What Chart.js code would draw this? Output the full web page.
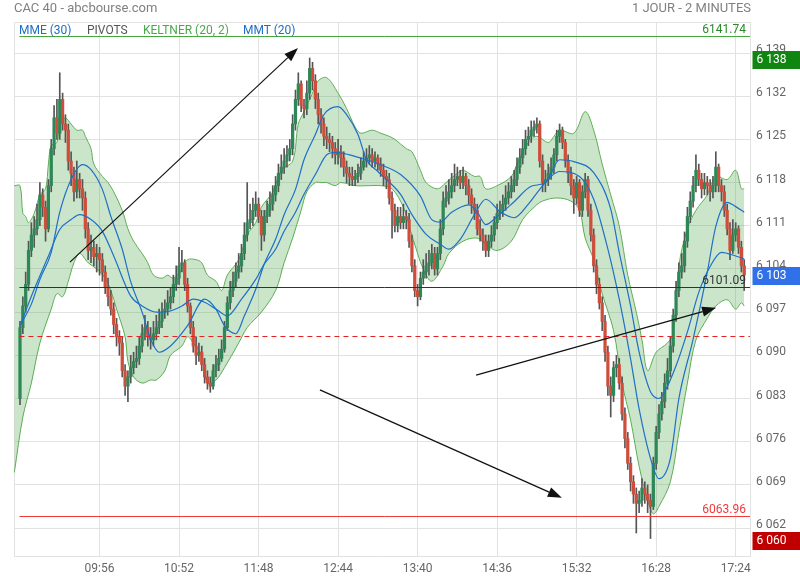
<!DOCTYPE html>
<html>
<head>
<meta charset="utf-8">
<title>CAC 40 - abcbourse.com</title>
<script src="https://cdn.jsdelivr.net/npm/chart.js@4.4.0/dist/chart.umd.min.js"></script>
<style>
  body { margin: 0; background: #fff; font-family: Roboto, "Noto Sans", sans-serif; }
  #wrap { position: relative; width: 800px; height: 580px; overflow: hidden; }
  #chart { position: absolute; left: 0; top: 0; }
  .txt { position: absolute; white-space: nowrap; line-height: 14px; }
  #title { left: 14px; top: 1px; font-size: 13px; color: #808080; }
  #period { right: 49px; top: 1px; font-size: 13px; color: #808080; }
  .leg { top: 23px; font-size: 12px; }
</style>
</head>
<body>
<div id="wrap">
  <canvas id="chart" width="800" height="580"></canvas>
  <div class="txt" id="title">CAC 40 - abcbourse.com</div>
  <div class="txt" id="period">1 JOUR - 2 MINUTES</div>
  <div class="txt leg" style="left:19px;color:#1e6ec8">MME (30)</div>
  <div class="txt leg" style="left:87px;color:#555">PIVOTS</div>
  <div class="txt leg" style="left:143px;color:#4aa84a">KELTNER (20, 2)</div>
  <div class="txt leg" style="left:243px;color:#1e6ec8">MMT (20)</div>
</div>
<script>
/********** DATA **********/

// 2 minute candles, index 0 = 09:00 ... 255 = 17:30
const firstOpen = 6083;
const closes = [
  6094.5, 6098, 6101.5, 6107, 6109.5, 6110.5, 6112, 6116, 6114, 6110.5,
  6117.5, 6123.5, 6128.5, 6126, 6131.5, 6127.5, 6126.5, 6121.5, 6119.5, 6116.5,
  6118.5, 6117, 6115.5, 6110.5, 6107, 6107.5, 6106, 6106.5, 6105.5, 6103.5,
  6101, 6099.5, 6097.5, 6095, 6093, 6092, 6087.5, 6085, 6086.5, 6088,
  6089, 6089.5, 6091.5, 6093.5, 6094.5, 6093, 6092.5, 6093.5, 6094.5, 6095.5,
  6097, 6097.5, 6098.5, 6099.5, 6101.5, 6102.5, 6104.5, 6105, 6101.5, 6098,
  6094.5, 6091.5, 6090, 6090.5, 6088.5, 6086.5, 6085.5, 6085, 6087.5, 6088.5,
  6089.5, 6091, 6094.5, 6098.5, 6100.5, 6102, 6103.5, 6104.5, 6106.5, 6109.5,
  6111.5, 6112, 6113.5, 6114.5, 6112.5, 6109.5, 6112.5, 6113.5, 6114.5, 6116,
  6117.5, 6119.5, 6120.5, 6121.5, 6122.5, 6123.5, 6127.5, 6131.5, 6134, 6130.5,
  6130, 6132.5, 6136.5, 6134.5, 6131.5, 6129, 6127.5, 6125.5, 6125, 6124.5,
  6123.5, 6122.5, 6123, 6122, 6120.5, 6119.5, 6119, 6118.5, 6119, 6119.5,
  6120.5, 6121.5, 6122, 6122.5, 6121.5, 6122, 6121, 6120, 6119, 6118.5,
  6115.5, 6113.5, 6111, 6112.5, 6111.5, 6112.5, 6112, 6108.5, 6104.5, 6100.5,
  6099.5, 6102.5, 6103.5, 6104.5, 6105, 6106.5, 6104, 6106.5, 6110.5, 6115,
  6115.5, 6116.5, 6117.5, 6118.5, 6119, 6118, 6119, 6117.5, 6116, 6114.5,
  6113.5, 6110.5, 6109.5, 6108.5, 6107, 6108.5, 6109.5, 6111.5, 6113, 6113.5,
  6114.5, 6115.5, 6116.5, 6117.5, 6118.5, 6120.5, 6122, 6123.5, 6125, 6125.5,
  6126.5, 6127, 6127.5, 6121.5, 6118, 6118.5, 6119.5, 6120.5, 6122.5, 6125.5,
  6126.5, 6124.5, 6121.5, 6119.5, 6117.5, 6115.5, 6118, 6113.5, 6116.5, 6118.5,
  6113.5, 6109.5, 6104.5, 6101.5, 6098.5, 6095.5, 6090.5, 6085, 6083.5, 6088,
  6088.5, 6085.5, 6080.5, 6076.5, 6072.5, 6069.5, 6067.5, 6066, 6066.5, 6068.5,
  6067.5, 6066.5, 6065.5, 6072.5, 6077.5, 6080.5, 6082.5, 6085.5, 6087.5, 6091.5,
  6096.5, 6100.5, 6103.5, 6104.5, 6108.5, 6112.5, 6115, 6117.5, 6120, 6118.5,
  6117, 6118, 6117.5, 6116.5, 6117.5, 6120.5, 6117.5, 6116.5, 6113.5, 6110.5,
  6107, 6109.5, 6110.5, 6107.5, 6104.5, 6103
];
const highs = [
  6095.5, 6099.5, 6103.5, 6108.5, 6111.5, 6112.5, 6114.5, 6118, 6117, 6115,
  6118.5, 6125, 6130.5, 6131.5, 6135.8, 6132.5, 6129, 6127.5, 6123, 6120.5,
  6121.5, 6119.5, 6118.5, 6116.5, 6111.5, 6109.5, 6108.5, 6108, 6107.5, 6106.5,
  6104.5, 6102.5, 6100.5, 6098.5, 6096, 6094, 6093, 6088.5, 6087.5, 6090,
  6090.5, 6091.5, 6093, 6095, 6096.5, 6095.5, 6094.5, 6095.5, 6096.5, 6097.5,
  6098.5, 6099, 6100.5, 6101, 6103, 6104.5, 6107.5, 6107, 6105.5, 6102.5,
  6098.5, 6095.5, 6093, 6092, 6091.5, 6089.5, 6087.5, 6086.5, 6088.5, 6090,
  6091, 6092.5, 6095.5, 6099.5, 6102, 6103.5, 6105, 6106.5, 6108, 6111.5,
  6118, 6114.5, 6115.5, 6116.5, 6115.5, 6113.5, 6113.5, 6115, 6116.5, 6117.5,
  6119, 6121, 6122.5, 6123.5, 6124, 6125, 6129, 6133, 6135.8, 6134.5,
  6131.5, 6134.5, 6138.2, 6137.5, 6135.5, 6132.5, 6130, 6128.5, 6127, 6126,
  6125.5, 6124.5, 6125, 6124, 6123, 6121.5, 6120.5, 6120.5, 6120, 6121,
  6122, 6123, 6123.5, 6124, 6123.5, 6123, 6122.5, 6122, 6121, 6120,
  6119.5, 6116.5, 6114.5, 6114, 6114, 6114.5, 6113.5, 6113, 6109.5, 6105.5,
  6101.5, 6103.5, 6105.5, 6106.5, 6107, 6108, 6107.5, 6107.5, 6112, 6116.5,
  6117.5, 6118.5, 6119.5, 6121, 6120.5, 6120, 6120.5, 6119.5, 6118.5, 6117,
  6115.5, 6114.5, 6112, 6110.5, 6109.5, 6109.5, 6111, 6112.5, 6114.5, 6115,
  6116, 6117.5, 6118, 6119, 6120, 6122, 6123.5, 6125, 6126.5, 6127,
  6128, 6128, 6128.5, 6128, 6122.5, 6120, 6121, 6122, 6123.5, 6126.5,
  6127.5, 6127, 6125, 6122.5, 6120.5, 6118.5, 6119, 6118.5, 6117.5, 6119.5,
  6119, 6114.5, 6110.5, 6105.5, 6102.5, 6099.5, 6096.5, 6091.5, 6086.5, 6089,
  6090, 6089.5, 6086.5, 6081.5, 6077.5, 6073.5, 6070.5, 6068.5, 6068, 6070,
  6069.5, 6069, 6067.5, 6073.5, 6078.5, 6082, 6084, 6087, 6089.5, 6093,
  6097.5, 6102, 6105, 6106.5, 6110, 6114, 6116.5, 6119, 6122.5, 6121,
  6119.5, 6119.5, 6119, 6118.5, 6119, 6123, 6121, 6118.5, 6117.5, 6114.5,
  6111.5, 6112, 6111.5, 6111, 6108.5, 6105.5
];
const lows = [
  6082, 6093.5, 6097, 6100.5, 6106, 6107.5, 6109.5, 6111, 6112.5, 6108.5,
  6110, 6116.5, 6122.5, 6125, 6125, 6126.5, 6124.5, 6120, 6117.5, 6115,
  6115.5, 6115.5, 6113.5, 6109, 6105.5, 6105, 6104.5, 6103.5, 6103, 6102,
  6100, 6098, 6096.5, 6093.5, 6091.5, 6090, 6086.5, 6083.5, 6082.5, 6085.5,
  6087, 6088, 6088.5, 6090.5, 6092.5, 6091.5, 6091, 6091.5, 6092.5, 6093.5,
  6094.5, 6096, 6096.5, 6097.5, 6098.5, 6100.5, 6101.5, 6103.5, 6100.5, 6097,
  6093.5, 6090.5, 6088.5, 6089, 6087.5, 6085.5, 6084.5, 6084, 6084.5, 6086.5,
  6087.5, 6089, 6090.5, 6094, 6097.5, 6099.5, 6101, 6102.5, 6103.5, 6105.5,
  6108.5, 6110.5, 6111, 6112.5, 6111.5, 6107, 6108.5, 6111.5, 6112.5, 6113.5,
  6115, 6116.5, 6118.5, 6119.5, 6120.5, 6121.5, 6122.5, 6126.5, 6130.5, 6129.5,
  6128.5, 6129, 6131.5, 6133, 6130, 6127.5, 6126, 6124, 6123.5, 6123,
  6122, 6121, 6121, 6120.5, 6119, 6118, 6117.5, 6117.5, 6117.5, 6118,
  6118.5, 6120, 6120.5, 6121, 6120.5, 6120.5, 6120, 6119, 6117.5, 6117,
  6114.5, 6109, 6110, 6110, 6110.5, 6110.5, 6110.5, 6107.5, 6103.5, 6099.5,
  6098, 6099, 6101.5, 6102.5, 6103, 6104, 6103, 6103, 6105.5, 6109.5,
  6114, 6114.5, 6115.5, 6116.5, 6117.5, 6117, 6117, 6116, 6114.5, 6113,
  6112, 6109.5, 6108.5, 6107, 6106, 6106, 6107.5, 6108.5, 6110.5, 6112,
  6112.5, 6113.5, 6114.5, 6115.5, 6116.5, 6117.5, 6119.5, 6121, 6122.5, 6124,
  6124.5, 6125.5, 6126, 6120.5, 6116.5, 6116.5, 6117.5, 6118.5, 6119.5, 6121.5,
  6124.5, 6123.5, 6120.5, 6118, 6116, 6113, 6114.5, 6112.5, 6112.5, 6115.5,
  6112.5, 6108.5, 6103.5, 6100, 6097.5, 6094, 6089, 6083.5, 6080, 6082.5,
  6086.5, 6084.5, 6079.5, 6075, 6071.5, 6068, 6066, 6061.2, 6064.5, 6065.5,
  6066, 6064.5, 6060.3, 6065, 6071.5, 6076.5, 6079.5, 6081.5, 6084.5, 6086.5,
  6090.5, 6095.5, 6099.5, 6102.5, 6103.5, 6107.5, 6111.5, 6114, 6116.5, 6117.5,
  6115.5, 6116, 6116, 6115, 6115.5, 6116.5, 6116.5, 6115, 6112.5, 6109.5,
  6105.5, 6106.5, 6108.5, 6106.5, 6103.5, 6100.5
];

// Keltner (20, 2) channel, read at candle indexes
const upperIdx = [-2, 0, 1, 2, 3, 5, 7, 9, 10, 11, 13, 14, 15, 16, 18, 20, 22, 23, 25, 26, 29, 31, 33, 36, 38, 40, 43, 45, 47, 50, 52, 54, 57, 59, 62, 64, 66, 69, 71, 73, 77, 80, 83, 85, 89, 92, 96, 98, 100, 103, 105, 108, 112, 115, 118, 120, 124, 127, 130, 132, 136, 138, 141, 143, 147, 150, 154, 156, 160, 162, 164, 168, 173, 175, 179, 182, 186, 188, 190, 195, 199, 202, 205, 208, 211, 214, 217, 219, 221, 224, 228, 230, 232, 235, 238, 242, 245, 249, 252, 254, 255];
const upperVal = [6117.5, 6117.5, 6113, 6112.5, 6111.5, 6113, 6116, 6117, 6121, 6124, 6124.5, 6127.5, 6128, 6128.5, 6127.5, 6126.5, 6126.5, 6125.5, 6123.5, 6121, 6119, 6118, 6116.5, 6113.5, 6110.5, 6108.5, 6106.5, 6105, 6103, 6102.5, 6103, 6102.5, 6104, 6105.5, 6105.5, 6105, 6103, 6102, 6100.5, 6103, 6105.5, 6109.5, 6111.5, 6114, 6116.5, 6120, 6121.5, 6127.5, 6129.5, 6132.5, 6134.5, 6135, 6132.5, 6130, 6127, 6126, 6126.5, 6126, 6125.5, 6125, 6123.5, 6123, 6120, 6118, 6117, 6118, 6119.5, 6120, 6119, 6119, 6117, 6117.5, 6119, 6121, 6124.5, 6125.5, 6124.5, 6125.5, 6126.5, 6126, 6129.5, 6126.5, 6121, 6116, 6111, 6103, 6097, 6092.5, 6087.5, 6090.5, 6092, 6093.5, 6104.5, 6110.5, 6113.5, 6116, 6119, 6118.5, 6120, 6117, 6117];
const lowerIdx = [-2, 1, 4, 7, 11, 13, 15, 17, 19, 21, 24, 27, 30, 32, 34, 37, 38, 40, 43, 46, 48, 51, 53, 57, 59, 61, 64, 66, 69, 72, 77, 80, 85, 90, 93, 96, 99, 101, 104, 106, 108, 111, 113, 118, 123, 127, 131, 135, 137, 140, 142, 145, 149, 151, 156, 161, 164, 168, 173, 177, 181, 184, 189, 194, 197, 199, 202, 205, 209, 212, 215, 218, 221, 223, 225, 229, 232, 235, 238, 242, 245, 249, 252, 254, 255];
const lowerVal = [6071, 6080, 6085.5, 6092, 6097.5, 6100, 6099.5, 6102, 6105, 6106.5, 6105, 6104, 6102.5, 6100.5, 6097.5, 6093, 6089, 6086.5, 6085.5, 6086, 6086, 6087.5, 6090, 6091.5, 6093, 6092, 6090, 6085.5, 6086, 6088, 6092, 6094.5, 6097, 6100.5, 6105, 6109, 6113.5, 6116.5, 6118, 6118, 6118, 6117.5, 6118, 6117.5, 6117.5, 6117.5, 6117, 6114, 6111, 6106.5, 6104, 6102, 6104.5, 6106.5, 6108.5, 6109, 6108, 6107, 6108.5, 6112, 6114, 6115, 6115.5, 6115, 6113.5, 6109, 6105.5, 6100, 6094, 6085.5, 6079.5, 6072, 6066.5, 6064.3, 6065.5, 6069.5, 6077.5, 6085.5, 6092.5, 6096, 6098, 6099, 6097.5, 6098.5, 6098];

// moving averages (MME 30 / MMT 20), read at candle indexes
const avgAIdx = [0, 4, 7, 11, 14, 18, 22, 25, 29, 32, 36, 39, 43, 46, 49, 53, 59, 65, 69, 72, 76, 79, 83, 86, 90, 93, 97, 100, 104, 107, 112, 115, 119, 122, 126, 129, 134, 138, 143, 148, 151, 155, 160, 164, 169, 174, 179, 183, 187, 190, 197, 202, 207, 211, 215, 218, 222, 225, 229, 232, 237, 242, 245, 249, 252, 255];
const avgAVal = [6094.8, 6098.3, 6102.3, 6106.7, 6113.2, 6118.5, 6120.9, 6120.1, 6116.9, 6112.5, 6107.2, 6101.9, 6097, 6092.6, 6090.5, 6091.5, 6094.8, 6099.1, 6097.5, 6094.8, 6093.5, 6096.4, 6100.7, 6104.8, 6108.8, 6112.8, 6116.9, 6121.7, 6125.8, 6129, 6130.3, 6129, 6125.8, 6121.7, 6119.8, 6118.5, 6116.1, 6112.8, 6109.6, 6108, 6107.2, 6108.8, 6112.8, 6115.3, 6113.3, 6112.3, 6114.5, 6116.9, 6119, 6119.8, 6119, 6115.3, 6107.2, 6099.1, 6089.4, 6081.3, 6073.3, 6070, 6073.3, 6083, 6092.6, 6103.5, 6110.9, 6114.8, 6114.1, 6113.2];
const avgBIdx = [0, 5, 10, 14, 18, 21, 25, 29, 33, 39, 43, 48, 53, 57, 61, 65, 69, 73, 78, 83, 86, 90, 93, 97, 100, 104, 108, 111, 116, 122, 127, 134, 141, 145, 148, 152, 158, 161, 164, 168, 174, 180, 185, 190, 195, 202, 208, 211, 215, 218, 222, 225, 227, 231, 235, 239, 243, 247, 252, 255];
const avgBVal = [6094.8, 6100.7, 6106.1, 6110.4, 6112, 6112.8, 6112, 6110.1, 6106.1, 6099.6, 6098, 6097, 6097.2, 6098, 6099.1, 6098.6, 6097.5, 6096.4, 6099.1, 6102.3, 6104.8, 6107.2, 6110.1, 6113.2, 6116.1, 6119.3, 6122.5, 6122.9, 6122.5, 6121.7, 6120.9, 6119.3, 6115.8, 6112, 6111.6, 6113.2, 6114.4, 6113.2, 6111.2, 6112.5, 6114.9, 6117.4, 6118, 6121.7, 6121.4, 6119.6, 6113.7, 6106.7, 6098, 6090.5, 6084.1, 6083, 6084.1, 6088.3, 6093.8, 6100.2, 6104.4, 6106.7, 6106.1, 6105.6];

// pivot levels and price tags
const pivotHigh = 6141.74;
const pivotMid = 6101.09;
const pivotLow = 6063.96;
const prevClose = 6093.1;
const tagValues = [6138, 6103, 6060];
const tagColors = ['#118511', '#3070e8', '#c00000'];

// hand drawn arrows: [fromIndex, fromPrice, toIndex, toPrice]
const arrows = [
  [17.6, 6105.1, 97.9, 6139.8],
  [105.6, 6084.4, 190.8, 6066.9],
  [160.6, 6086.8, 245.1, 6097.7]
];

// axis ticks
const xTickIdx = [28, 56, 84, 112, 140, 168, 196, 224, 252];
const xTickLabels = ['09:56', '10:52', '11:48', '12:44', '13:40', '14:36', '15:32', '16:28', '17:24'];
const yTicks = [6062, 6069, 6076, 6083, 6090, 6097, 6104, 6111, 6118, 6125, 6132, 6139];


/********** BUILD DATASETS **********/

const opens = closes.map((c, i) => i === 0 ? firstOpen : closes[i - 1]);
const bodies = closes.map((c, i) => ({ x: i, y: [Math.min(opens[i], c), Math.max(opens[i], c)] }));
const bodyColors = closes.map((c, i) => c >= opens[i] ? '#2e8756' : '#cf4e3b');
const wicks = closes.map((c, i) => ({ x: i, y: [lows[i], highs[i]] }));
const pts = (idx, val) => idx.map((x, k) => ({ x: x, y: val[k] }));

const gridColor = '#e2e2e2';
const fmt = v => String(v).replace(/\B(?=(\d{3})+(?!\d))/g, ' ');

const overlay = {
    id: 'overlay',
    beforeDatasetsDraw(chart) {
        const { ctx, chartArea: a } = chart;
        ctx.save();
        ctx.strokeStyle = gridColor;
        ctx.lineWidth = 1;
        ctx.beginPath();
        ctx.moveTo(a.left + 0.5, a.bottom);
        ctx.lineTo(a.left + 0.5, a.top + 0.5);
        ctx.lineTo(a.right, a.top + 0.5);
        ctx.stroke();
        ctx.restore();
    },
    afterDatasetsDraw(chart) {
        const { ctx, chartArea: a, scales: { x, y } } = chart;
        const x0 = x.getPixelForValue(-0.2);
        ctx.save();
        ctx.font = '12px Roboto';
        ctx.textAlign = 'right';
        ctx.textBaseline = 'bottom';

        // previous close, dashed
        let py = Math.round(y.getPixelForValue(prevClose)) + 0.5;
        ctx.strokeStyle = '#e52222';
        ctx.setLineDash([5, 4]);
        ctx.beginPath(); ctx.moveTo(x0, py); ctx.lineTo(a.right, py); ctx.stroke();
        ctx.setLineDash([]);

        // pivot lines
        [[pivotHigh, '#45a83d'], [pivotMid, '#333333'], [pivotLow, '#f03a3a']].forEach(([v, col]) => {
            const yy = Math.round(y.getPixelForValue(v)) + 0.5;
            ctx.strokeStyle = col;
            ctx.fillStyle = col === '#45a83d' ? '#2a8a2a' : col;
            ctx.beginPath(); ctx.moveTo(x0, yy); ctx.lineTo(a.right, yy); ctx.stroke();
            ctx.fillText(v.toFixed(2), a.right - 4, yy - 1);
        });

        // arrows
        ctx.strokeStyle = '#111';
        ctx.fillStyle = '#111';
        ctx.lineWidth = 1.2;
        arrows.forEach(([i1, p1, i2, p2]) => {
            const ax = x.getPixelForValue(i1), ay = y.getPixelForValue(p1);
            const bx = x.getPixelForValue(i2), by = y.getPixelForValue(p2);
            const ang = Math.atan2(by - ay, bx - ax);
            const len = 14, hw = 5;
            ctx.beginPath(); ctx.moveTo(ax, ay);
            ctx.lineTo(bx - len * Math.cos(ang), by - len * Math.sin(ang)); ctx.stroke();
            ctx.beginPath();
            ctx.moveTo(bx, by);
            ctx.lineTo(bx - len * Math.cos(ang) + hw * Math.sin(ang), by - len * Math.sin(ang) - hw * Math.cos(ang));
            ctx.lineTo(bx - len * Math.cos(ang) - hw * Math.sin(ang), by - len * Math.sin(ang) + hw * Math.cos(ang));
            ctx.closePath(); ctx.fill();
        });
        ctx.restore();
    },
    afterDraw(chart) {
        const { ctx, chartArea: a, scales: { y } } = chart;
        ctx.save();
        ctx.font = '12px Roboto';
        ctx.textBaseline = 'middle';
        ctx.textAlign = 'left';
        tagValues.forEach((v, k) => {
            const yy = y.getPixelForValue(v);
            ctx.fillStyle = tagColors[k];
            ctx.fillRect(a.right + 2.5, Math.round(yy - 8.5), 800 - a.right, 18);
            ctx.fillStyle = '#fff';
            ctx.fillText(fmt(v), a.right + 6.5, yy + 1);
        });
        ctx.restore();
    }
};

Chart.defaults.font.family = 'Roboto';
Chart.defaults.font.size = 12;
Chart.defaults.color = '#666';

const ctx = document.getElementById('chart').getContext('2d');
const chart = new Chart(ctx, {
    type: 'bar',
    data: {
        datasets: [
            {
                type: 'line', label: 'upper', data: pts(upperIdx, upperVal), order: 10,
                borderColor: '#5fae55', borderWidth: 1, pointRadius: 0, tension: 0.35,
                fill: '+1', backgroundColor: 'rgba(76,165,76,0.29)'
            },
            {
                type: 'line', label: 'lower', data: pts(lowerIdx, lowerVal), order: 10,
                borderColor: '#5fae55', borderWidth: 1, pointRadius: 0, tension: 0.35, fill: false
            },
            {
                type: 'line', label: 'MME (30)', data: pts(avgBIdx, avgBVal), order: 1,
                borderColor: '#1f6fc6', borderWidth: 1.2, pointRadius: 0, cubicInterpolationMode: 'monotone', fill: false
            },
            {
                type: 'line', label: 'MMT (20)', data: pts(avgAIdx, avgAVal), order: 1,
                borderColor: '#1f6fc6', borderWidth: 1.2, pointRadius: 0, cubicInterpolationMode: 'monotone', fill: false
            },
            {
                label: 'wicks', data: wicks, order: 5, grouped: false,
                backgroundColor: '#555', barThickness: 1
            },
            {
                label: 'bodies', data: bodies, order: 4, grouped: false,
                backgroundColor: bodyColors, barThickness: 2.6, minBarLength: 1
            }
        ]
    },
    options: {
        responsive: false,
        animation: false,
        layout: { padding: { left: 14, top: 22, right: 0, bottom: 0 } },
        plugins: { legend: { display: false }, tooltip: { enabled: false } },
        scales: {
            x: {
                type: 'linear', min: -2.113, max: 257.04, offset: false,
                grid: { color: gridColor, drawTicks: false, offset: false },
                border: { color: gridColor },
                ticks: {
                    padding: 6, maxRotation: 0, autoSkip: false,
                    callback: v => xTickLabels[xTickIdx.indexOf(v)] ?? ''
                },
                afterBuildTicks: s => { s.ticks = xTickIdx.map(v => ({ value: v })); },
                afterFit: s => { s.height = 24; }
            },
            y: {
                position: 'right', min: 6057.47, max: 6144.03,
                grid: { color: gridColor, drawTicks: false },
                border: { color: gridColor },
                ticks: { padding: 6, labelOffset: -3, callback: v => fmt(v) },
                afterBuildTicks: s => { s.ticks = yTicks.map(v => ({ value: v })); },
                afterFit: s => { s.width = 50; }
            }
        }
    },
    plugins: [overlay]
});
</script>
</body>
</html>
